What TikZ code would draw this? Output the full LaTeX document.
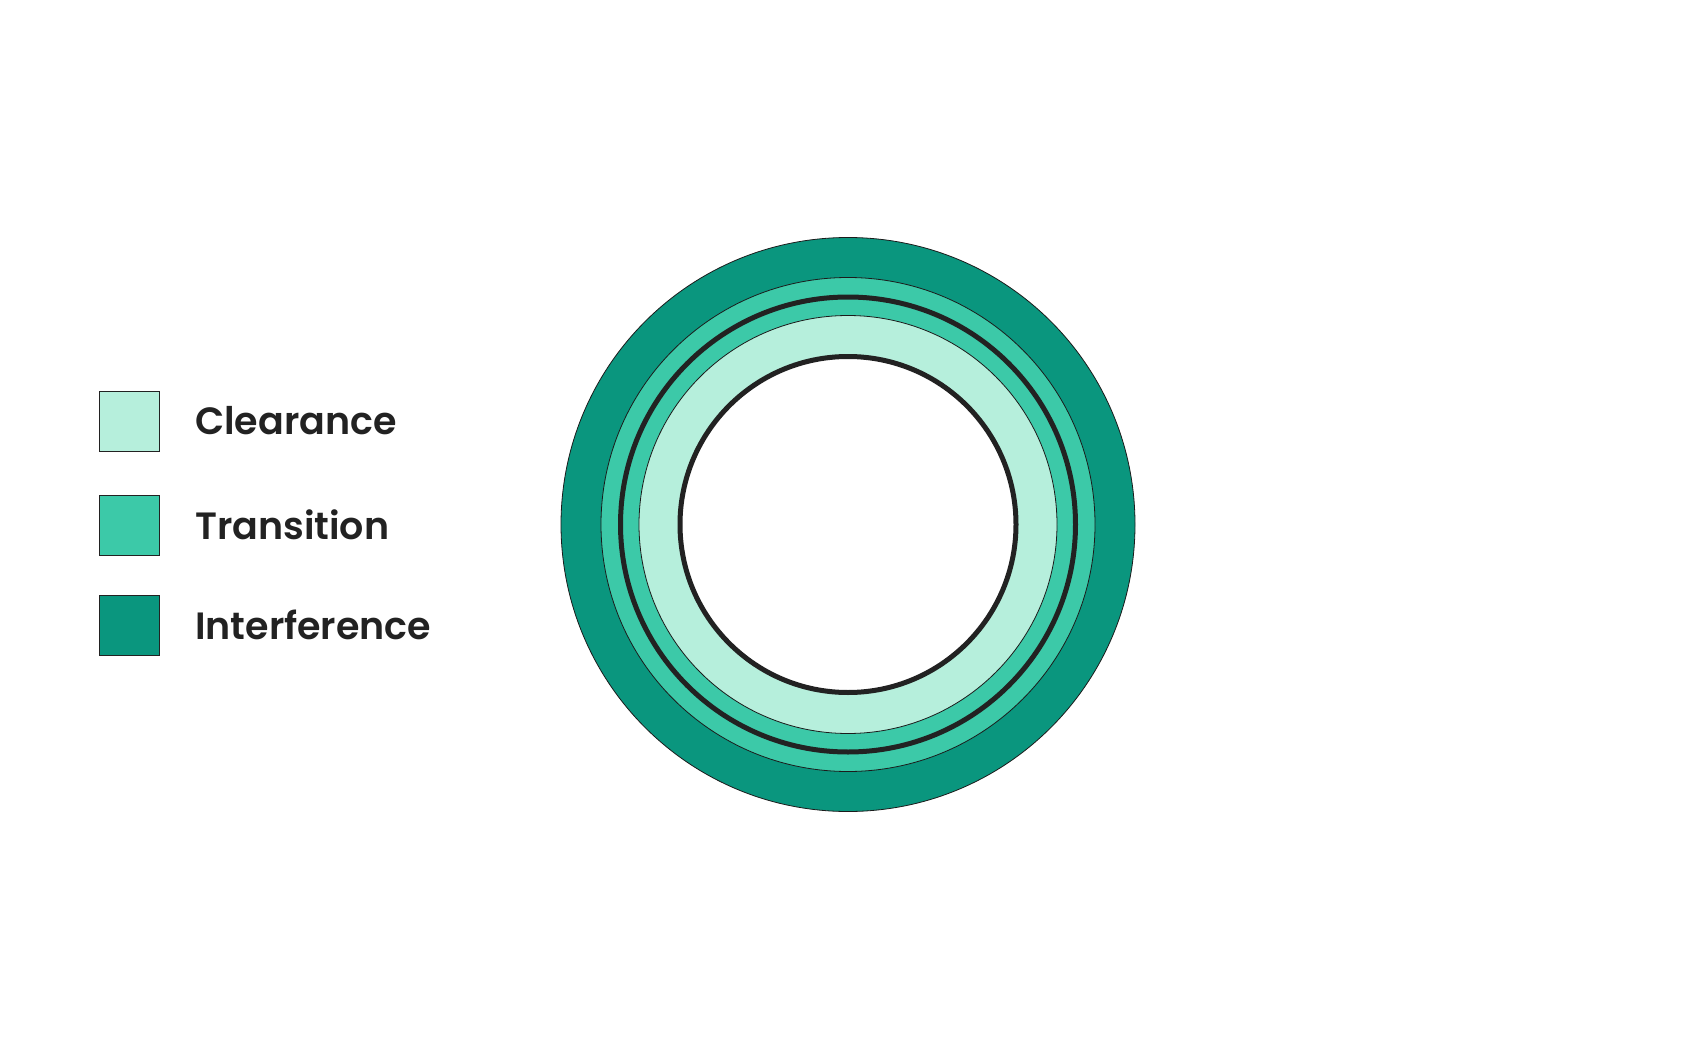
\documentclass[tikz,border=0pt]{standalone}
\usepackage{fontspec}
\setmainfont{Poppins}[Ligatures=NoCommon,BoldFont={Poppins SemiBold}]
\definecolor{interf}{HTML}{0A967E}
\definecolor{trans}{HTML}{3CC9A8}
\definecolor{clear}{HTML}{B6EFDC}
\definecolor{ink}{HTML}{222222}
\begin{document}
\begin{tikzpicture}[x=1pt,y=-1pt,
  thinring/.style={draw=ink!80!black,line width=0.8pt},
  thickring/.style={draw=ink,line width=5pt},
  legbox/.style={draw=ink,line width=0.8pt,minimum width=60pt,minimum height=60pt,inner sep=0pt},
  legtext/.style={font=\fontsize{38}{42}\selectfont\bfseries,text=ink,anchor=west,inner sep=0pt}]
\useasboundingbox (0,0) rectangle (1687,1054);
\fill[white] (0,0) rectangle (1687,1054);
\coordinate (c) at (848,524.5);
% rings
\path[fill=interf,thinring] (c) circle[radius=287];
\path[fill=trans,thinring] (c) circle[radius=247];
\path[thickring] (c) circle[radius=227.5];
\path[fill=clear,thinring] (c) circle[radius=209];
\path[fill=white,thickring] (c) circle[radius=168];
% legend
\node[legbox,fill=clear] (b1) at (129.5,421) {};
\node[legbox,fill=trans] (b2) at (129.5,525) {};
\node[legbox,fill=interf] (b3) at (129.5,625) {};
\node[legtext] (t1) at (195,421) {Clearance};
\node[legtext] (t2) at (195,525) {Transition};
\node[legtext] (t3) at (195,625) {Interference};
\end{tikzpicture}
\end{document}
